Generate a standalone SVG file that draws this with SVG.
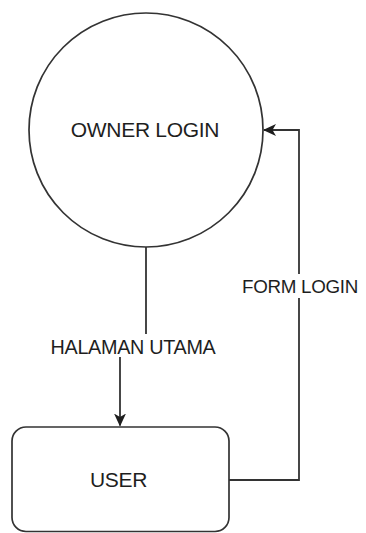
<svg xmlns="http://www.w3.org/2000/svg" width="366" height="533" viewBox="0 0 366 533">
  <style>
    .shape { fill: #ffffff; stroke: #333333; stroke-width: 1.7; }
    .edge { fill: none; stroke: #333333; stroke-width: 1.8; }
    .node-label { font-family: "Liberation Sans", Arial, sans-serif; font-size: 21px; fill: #1e1e1e; text-anchor: middle; letter-spacing: -0.3px; }
    .edge-label { font-family: "Liberation Sans", Arial, sans-serif; fill: #1e1e1e; text-anchor: middle; letter-spacing: -0.3px; }
    .label-bg { fill: #ffffff; stroke: none; }
  </style>
  <defs>
    <marker id="arrow" markerWidth="13" markerHeight="12" refX="12" refY="6" orient="auto" markerUnits="userSpaceOnUse" viewBox="0 0 13 12">
      <path d="M0,0 L13,6 L0,12 L3.5,6 Z" fill="#1e1e1e"/>
    </marker>
  </defs>
  <rect x="0" y="0" width="366" height="533" fill="#ffffff"/>

  <g id="connectors">
    <path class="edge" d="M146,247 V345 H120 V425.5" marker-end="url(#arrow)"/>
    <path class="edge" d="M229,480 H299 V130 H264" marker-end="url(#arrow)"/>
    <g id="label-halaman">
      <rect class="label-bg" x="46" y="334" width="174" height="23"/>
      <text class="edge-label" x="133" y="354" font-size="19.8">HALAMAN UTAMA</text>
    </g>
    <g id="label-form">
      <rect class="label-bg" x="239" y="274" width="122" height="24"/>
      <text class="edge-label" x="300" y="293" font-size="18.8">FORM LOGIN</text>
    </g>
  </g>

  <g id="owner-login">
    <circle class="shape" cx="146" cy="130" r="117"/>
    <text class="node-label" x="145" y="136.5">OWNER LOGIN</text>
  </g>

  <g id="user">
    <rect class="shape" x="12" y="427" width="217" height="104.5" rx="14" ry="14"/>
    <text class="node-label" x="118.5" y="487">USER</text>
  </g>
</svg>
